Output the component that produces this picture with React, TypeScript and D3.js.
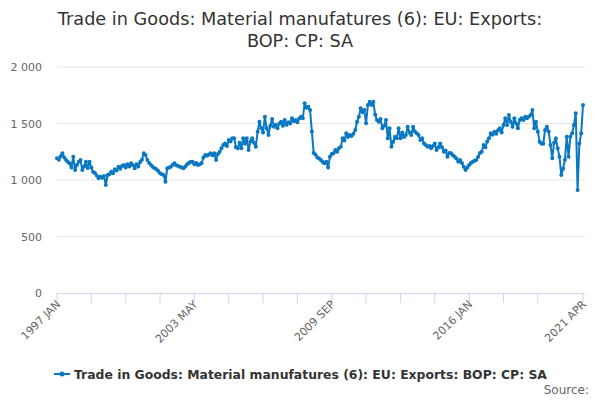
import * as d3 from 'd3'

const monthNames = ['JAN', 'FEB', 'MAR', 'APR', 'MAY', 'JUN', 'JUL', 'AUG', 'SEP', 'OCT', 'NOV', 'DEC']
const firstYear = 1997

// monthly values, one row per year (1997 JAN .. 2021 APR)
const exportValues = [
  1192, 1180, 1210, 1236, 1200, 1177, 1160, 1148, 1110, 1206, 1088, 1133,
  1162, 1177, 1088, 1120, 1162, 1106, 1162, 1110, 1070, 1062, 1040, 1015,
  1029, 1020, 1035, 956, 1044, 1050, 1073, 1060, 1095, 1085, 1118, 1100,
  1125, 1133, 1110, 1140, 1120, 1148, 1130, 1104, 1140, 1120, 1160, 1180,
  1236, 1221, 1177, 1150, 1133, 1115, 1104, 1095, 1080, 1059, 1050, 1044,
  985, 1104, 1110, 1118, 1135, 1148, 1130, 1125, 1118, 1110, 1104, 1120,
  1140, 1150, 1162, 1162, 1140, 1150, 1133, 1140, 1150, 1200, 1221, 1215,
  1225, 1236, 1220, 1236, 1177, 1230, 1250, 1280, 1310, 1324, 1300, 1354,
  1340, 1369, 1369, 1290, 1280, 1330, 1280, 1369, 1320, 1369, 1265, 1340,
  1369, 1330, 1295, 1428, 1516, 1457, 1420, 1560, 1457, 1398, 1480, 1540,
  1472, 1490, 1457, 1500, 1516, 1480, 1531, 1490, 1510, 1500, 1546, 1520,
  1530, 1510, 1545, 1560, 1546, 1679, 1640, 1649, 1620, 1430, 1240, 1225,
  1200, 1190, 1177, 1160, 1148, 1162, 1110, 1206, 1230, 1236, 1265, 1250,
  1280, 1295, 1369, 1350, 1413, 1380, 1398, 1390, 1410, 1442, 1516, 1560,
  1634, 1600, 1619, 1502, 1664, 1693, 1664, 1693, 1580, 1531, 1516, 1540,
  1457, 1480, 1531, 1369, 1457, 1295, 1339, 1383, 1370, 1457, 1369, 1420,
  1380, 1398, 1472, 1420, 1398, 1472, 1430, 1413, 1398, 1354, 1370, 1324,
  1310, 1295, 1300, 1280, 1300, 1324, 1265, 1290, 1324, 1290, 1251, 1260,
  1206, 1240, 1236, 1220, 1206, 1190, 1162, 1177, 1150, 1118, 1088, 1110,
  1133, 1150, 1162, 1170, 1177, 1206, 1240, 1251, 1310, 1290, 1340, 1369,
  1413, 1400, 1428, 1410, 1440, 1457, 1420, 1487, 1546, 1487, 1575, 1516,
  1472, 1546, 1500, 1457, 1530, 1546, 1530, 1560, 1546, 1560, 1575, 1619,
  1457, 1516, 1428, 1339, 1324, 1320, 1442, 1472, 1430, 1310, 1192, 1330,
  1369, 1280, 1206, 1044, 1100, 1180, 1383, 1206, 1383, 1413, 1487, 1590,
  911, 1324, 1413, 1664,
]

const categories = exportValues.map((_, i) => `${firstYear + Math.floor(i / 12)} ${monthNames[i % 12]}`)
const tickLabels = ['1997 JAN', '2003 MAY', '2009 SEP', '2016 JAN', '2021 APR']
const yTicks = [0, 500, 1000, 1500, 2000]

const titleLines = ['Trade in Goods: Material manufatures (6): EU: Exports:', 'BOP: CP: SA']
const seriesName = 'Trade in Goods: Material manufatures (6): EU: Exports: BOP: CP: SA'

const width = 600
const height = 400
const margin = { left: 57, right: 17, top: 67, bottom: 107 }
const blue = '#0a77c2'
const font = '"DejaVu Sans", sans-serif'

export default function App() {
  const x = d3.scalePoint<string>().domain(categories).range([margin.left, width - margin.right])
  const y = d3.scaleLinear().domain([0, 2000]).range([height - margin.bottom, margin.top])
  const fmt = d3.formatLocale({ decimal: '.', thousands: ' ', grouping: [3], currency: ['', ''] }).format(',')

  const line = d3.line<number>()
    .x((_, i) => x(categories[i]) as number)
    .y(d => y(d))

  // tick every 19 months, plus the last month
  const tickIdx = [...d3.range(0, categories.length - 19, 19), categories.length - 1]
  const axisY = y(0)

  return (
    <div style={{ position: 'absolute', left: 0, top: 0 }}>
      <svg width={width} height={height} style={{ fontFamily: font, display: 'block' }}>
        <rect width={width} height={height} fill="#fff" />
        {titleLines.map((t, i) => (
          <text key={t} x={width / 2} y={25 + i * 22} textAnchor="middle" fontSize={17.7} fill="#333">{t}</text>
        ))}

        {yTicks.map(t => (
          <g key={t}>
            {t > 0 && (
              <line x1={margin.left} x2={width - margin.right + 2} y1={y(t)} y2={y(t)} stroke="#e6e6e6" />
            )}
            <text x={42} y={y(t) + 4} textAnchor="end" fontSize={11} fill="#666">{fmt(t)}</text>
          </g>
        ))}

        <line x1={margin.left} x2={width - margin.right + 2} y1={axisY + 0.5} y2={axisY + 0.5} stroke="#ccd6eb" />
        {tickIdx.map(i => (
          <line key={i} x1={x(categories[i])} x2={x(categories[i])} y1={axisY} y2={axisY + 10} stroke="#ccd6eb" />
        ))}
        {tickLabels.map(lab => {
          const px = x(lab) as number
          return (
            <text key={lab} transform={`translate(${px + 4},${axisY + 12}) rotate(-45)`}
              textAnchor="end" fontSize={11} fill="#666">{lab}</text>
          )
        })}

        <path d={line(exportValues) || ''} fill="none" stroke={blue} strokeWidth={2} strokeLinejoin="round" />
        {exportValues.map((v, i) => (
          <circle key={i} cx={x(categories[i])} cy={y(v)} r={2} fill={blue} />
        ))}

        <g transform="translate(0,374)">
          <line x1={54} x2={70} y1={0} y2={0} stroke={blue} strokeWidth={2} />
          <circle cx={62} cy={0} r={2.5} fill={blue} />
          <text x={74} y={4.5} fontSize={12.4} fontWeight="bold" fill="#333">{seriesName}</text>
        </g>
        <text x={589} y={394} textAnchor="end" fontSize={12} fill="#666">Source:</text>
      </svg>
    </div>
  )
}
